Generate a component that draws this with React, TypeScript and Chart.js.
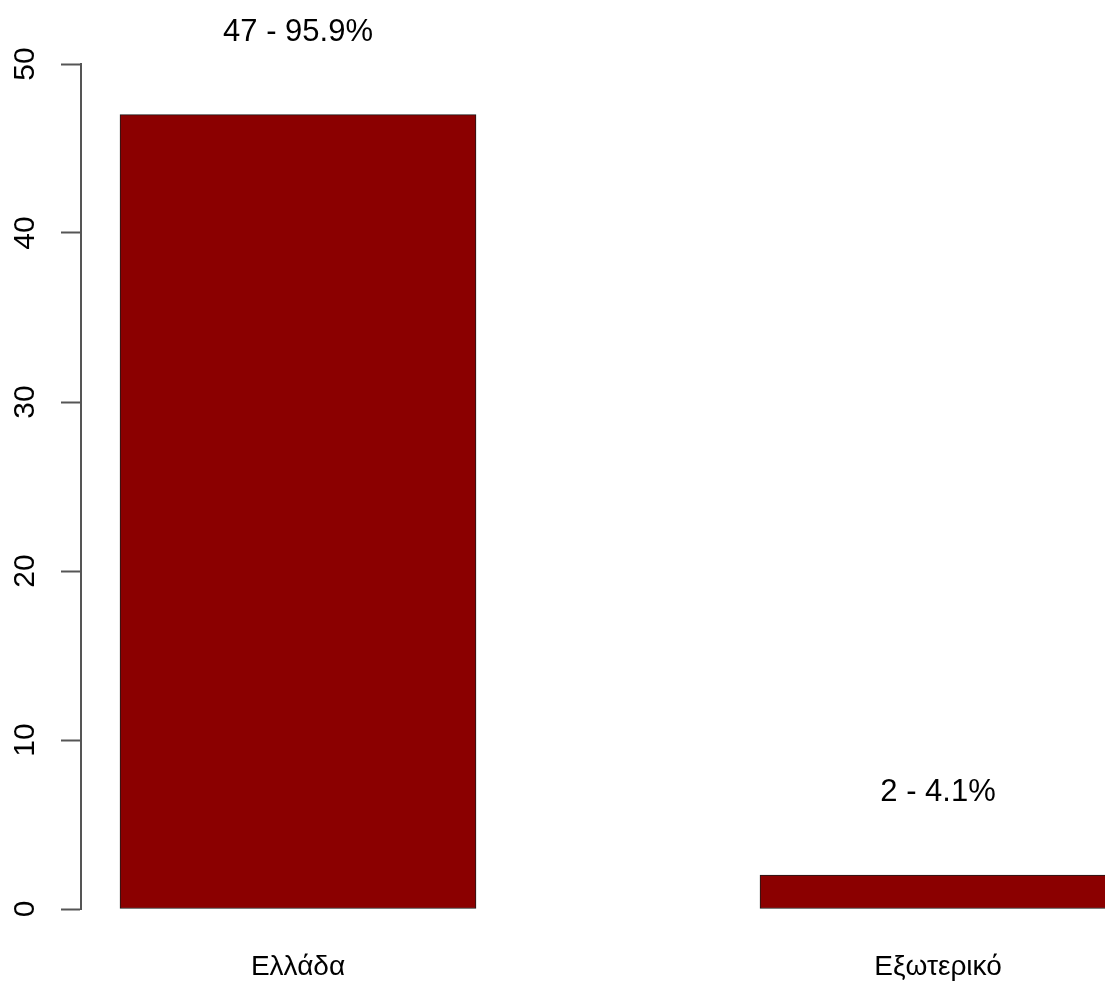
import React, { useEffect, useRef } from "react";
import { Chart, registerables } from "chart.js";

Chart.register(...registerables);

const categories = ["Ελλάδα", "Εξωτερικό"];
const counts = [47, 2];
const percents = ["95.9", "4.1"];
const yTicks = [0, 10, 20, 30, 40, 50];

const FONT = "'Liberation Sans', Arial, sans-serif";
const LABEL_OFFSET = 5; // data units above bar top

const barLabelPlugin = {
  id: "barLabels",
  afterDatasetsDraw(chart: any) {
    const ctx = chart.ctx;
    const meta = chart.getDatasetMeta(0);
    const yScale = chart.scales.y;
    ctx.save();
    ctx.font = `31px ${FONT}`;
    ctx.fillStyle = "#000";
    ctx.textAlign = "center";
    ctx.textBaseline = "middle";
    meta.data.forEach((el: any, i: number) => {
      const y = yScale.getPixelForValue(counts[i] + LABEL_OFFSET) + 2;
      ctx.fillText(`${counts[i]} - ${percents[i]}%`, el.x, y);
    });
    ctx.restore();
  },
};

export default function App() {
  const ref = useRef<HTMLCanvasElement | null>(null);
  useEffect(() => {
    if (!ref.current) return;
    const chart = new Chart(ref.current, {
      type: "bar",
      data: {
        datasets: [
          {
            data: counts.map((v, i) => ({ x: i, y: v })),
            backgroundColor: "#8B0000",
            borderColor: "#1a1a1a",
            borderWidth: 1,
            borderSkipped: false,
            barThickness: 356,
          } as any,
        ],
      },
      options: {
        animation: false,
        responsive: false,
        layout: { padding: { top: 64, left: 0, right: 0, bottom: 0 } },
        plugins: { legend: { display: false }, tooltip: { enabled: false } },
        scales: {
          x: {
            type: "linear",
            offset: false,
            min: -0.3390625,
            max: 1.2609375,
            border: { display: false },
            grid: { display: false, drawTicks: false, offset: false },
            afterBuildTicks: (s: any) => {
              s.ticks = categories.map((_, i) => ({ value: i }));
            },
            afterFit: (s: any) => {
              s.height = 75;
            },
            ticks: {
              autoSkip: false,
              maxRotation: 0,
              minRotation: 0,
              padding: 41,
              color: "#000",
              font: { family: FONT, size: 28 },
              callback: (v: any) => categories[v] ?? "",
            },
          },
          y: {
            min: 0,
            max: 50,
            border: { display: true, color: "#555", width: 2 },
            grid: {
              display: true,
              drawOnChartArea: false,
              drawTicks: true,
              tickLength: 20,
              tickColor: "#555",
              tickWidth: 2,
            },
            afterBuildTicks: (s: any) => {
              s.ticks = yTicks.map((v) => ({ value: v }));
            },
            afterFit: (s: any) => {
              s.width = 81;
            },
            ticks: {
              minRotation: 90,
              maxRotation: 90,
              crossAlign: "center",
              padding: 19,
              color: "#000",
              font: { family: FONT, size: 30 },
            },
          },
        },
      } as any,
      plugins: [barLabelPlugin],
    });
    return () => chart.destroy();
  }, []);
  return (
    <div style={{ position: "fixed", left: 0, top: 0, width: 1105, height: 984, background: "#fff" }}>
      <canvas ref={ref} width={1105} height={984} style={{ display: "block" }} />
    </div>
  );
}
